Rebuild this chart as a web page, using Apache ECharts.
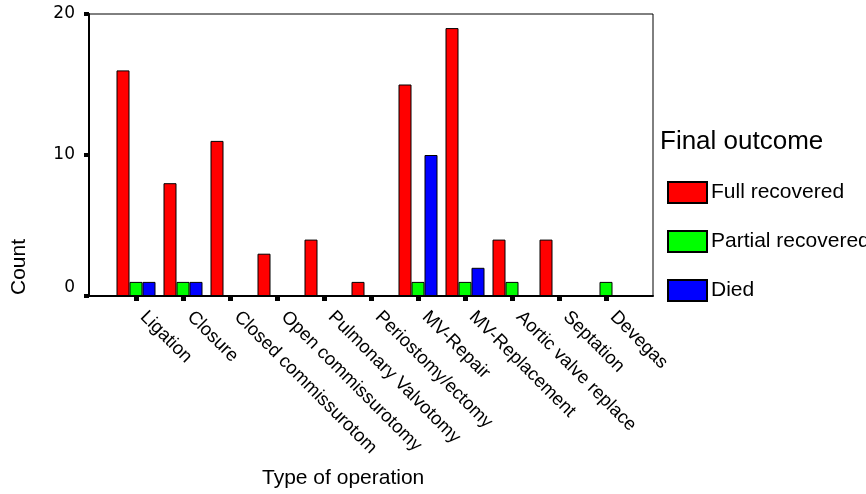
<!DOCTYPE html>
<html>
<head>
<meta charset="utf-8">
<script src="https://cdn.jsdelivr.net/npm/echarts@6/dist/echarts.min.js"></script>
<style>html,body{margin:0;padding:0;background:#fff}#c{width:866px;height:494px}</style>
</head>
<body>
<div id="c"></div>
<script>
const categories = ['Ligation','Closure','Closed commissurotom','Open commissurotomy','Pulmonary Valvotomy','Periostomy/ectomy','MV-Repair','MV-Replacement','Aortic valve replace','Septation','Devegas'];
const fullRecovered = [16,8,11,3,4,1,15,19,4,4,0];
const partialRecovered = [1,1,0,0,0,0,1,1,1,0,1];
const died = [1,1,0,0,0,0,10,2,0,0,0];
const yTicks = [0,10,20];

const pad = a => [null].concat(a, [null]);
const cats = [''].concat(categories, ['']);
const F = 'Liberation Sans, Arial, sans-serif';

const chart = echarts.init(document.getElementById('c'));
function bar(name, data, color) {
  return {
    name, type: 'bar', data: pad(data), barWidth: 13, barGap: '0%',
    itemStyle: { color, borderColor: '#000', borderWidth: 1 },
    animation: false
  };
}
chart.setOption({
  animation: false,
  backgroundColor: '#fff',
  grid: { left: 89, top: 14, right: 213, bottom: 198, show: true, borderColor: '#000', borderWidth: 1 },
  title: [
    { text: 'Type of operation', left: 262, top: 468, padding: 0,
      textStyle: { fontFamily: F, fontSize: 21, fontWeight: 'normal', color: '#000' } },
    { text: 'Final outcome', left: 660, top: 129, padding: 0,
      textStyle: { fontFamily: F, fontSize: 26, fontWeight: 'normal', color: '#000' } }
  ],
  graphic: [{
    type: 'text', x: 19, y: 267, rotation: Math.PI / 2,
    style: { text: 'Count', font: '21px ' + F, fill: '#000', textAlign: 'center', textVerticalAlign: 'middle' }
  }],
  legend: {
    orient: 'vertical', left: 667, top: 181, padding: 0,
    itemWidth: 39, itemHeight: 21, itemGap: 26, icon: 'rect',
    textStyle: { fontFamily: F, fontSize: 21, color: '#000', padding: [0, 0, 0, -1] },
    data: ['Full recovered', 'Partial recovered', 'Died']
  },
  xAxis: {
    type: 'category', data: cats, boundaryGap: false,
    axisLine: { lineStyle: { color: '#000', width: 2 } },
    axisTick: { show: true, length: 5, lineStyle: { color: '#000', width: 5 },
      interval: (i, v) => v !== '' },
    axisLabel: { interval: 0, rotate: -45, margin: 11, padding: [0, 0, 0, 10],
      fontFamily: F, fontSize: 18.5, color: '#000' },
    splitLine: { show: false }
  },
  yAxis: {
    type: 'value', min: 0, max: 20, interval: 10,
    axisLine: { show: true, lineStyle: { color: '#000', width: 2 } },
    axisTick: { show: true, length: 5, lineStyle: { color: '#000', width: 4 } },
    axisLabel: {
      margin: 14, fontFamily: 'DejaVu Sans', fontSize: 17, color: '#000',
      customValues: yTicks,
      formatter: v => v === 0 ? '{z|0}' : String(v),
      rich: { z: { fontFamily: 'DejaVu Sans', fontSize: 17, color: '#000', padding: [0, 0, 16, 0] } }
    },
    splitLine: { show: false }
  },
  series: [
    bar('Full recovered', fullRecovered, '#FF0000'),
    bar('Partial recovered', partialRecovered, '#00FF00'),
    bar('Died', died, '#0000FF')
  ]
});
</script>
</body>
</html>
